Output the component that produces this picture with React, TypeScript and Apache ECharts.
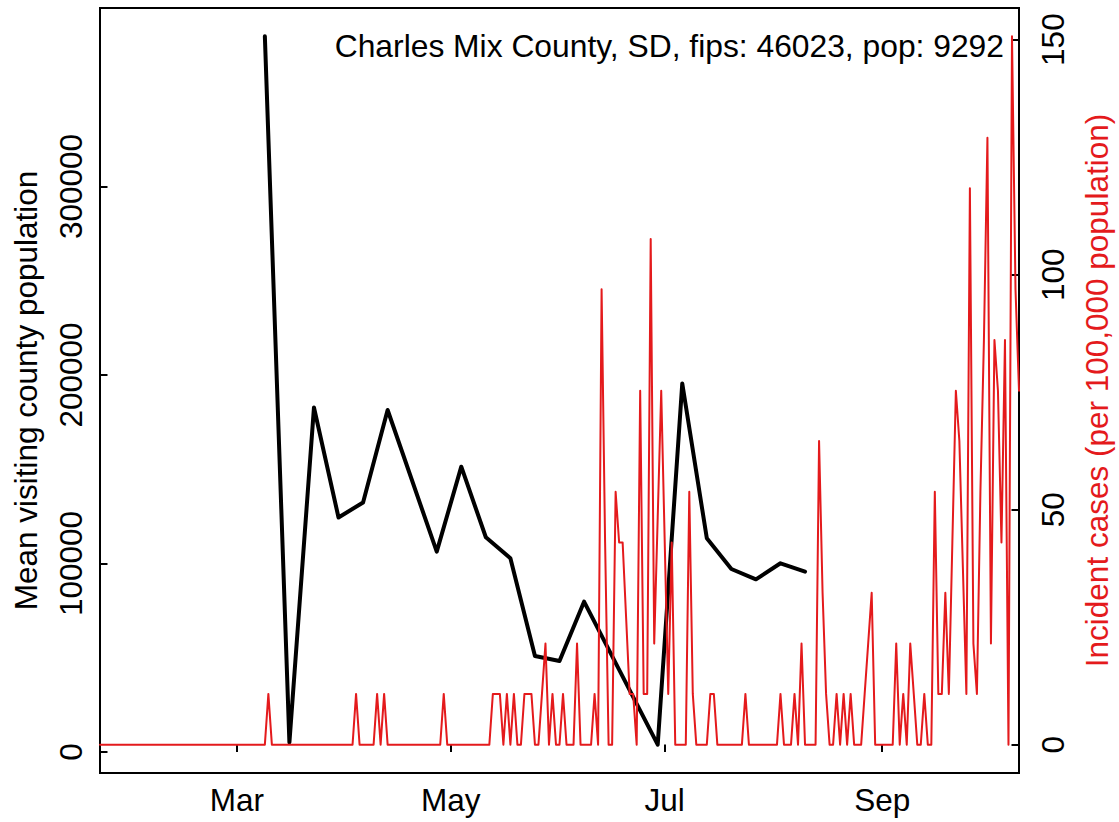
import React, { useEffect, useRef } from "react";
import * as echarts from "echarts";

// ---- data ----
const startDate = "2020-01-22";
const endDate = "2020-10-10";
const tickDates = ["2020-03-01", "2020-05-01", "2020-07-01", "2020-09-01"];
const tickLabels = ["Mar", "May", "Jul", "Sep"];

const visitDates = [
  "2020-03-09", "2020-03-16", "2020-03-23", "2020-03-30", "2020-04-06", "2020-04-13",
  "2020-04-27", "2020-05-04", "2020-05-11", "2020-05-18", "2020-05-25", "2020-06-01",
  "2020-06-08", "2020-06-29", "2020-07-06", "2020-07-13", "2020-07-20", "2020-07-27",
  "2020-08-03", "2020-08-10",
];
const visitValues = [
  379650, 5040, 182750, 124400, 132360, 181430,
  106260, 151350, 113900, 102760, 50930, 48280,
  79740, 3873, 195500, 113370, 97080, 91600,
  100100, 95650,
];

// daily incident cases per 100,000, from 2020-01-22 to 2020-10-10
const incidentCases = [
  // Jan 22 - Mar 9 (days 0-47)
  0, 0, 0, 0, 0, 0, 0, 0, 0, 0, 0, 0, 0, 0, 0, 0, 0, 0, 0, 0, 0, 0, 0, 0,
  0, 0, 0, 0, 0, 0, 0, 0, 0, 0, 0, 0, 0, 0, 0, 0, 0, 0, 0, 0, 0, 0, 0, 0,
  // days 48-71
  10.8, 0, 0, 0, 0, 0, 0, 0, 0, 0, 0, 0, 0, 0, 0, 0, 0, 0, 0, 0, 0, 0, 0, 0,
  // days 72-95
  0, 10.8, 0, 0, 0, 0, 0, 10.8, 0, 10.8, 0, 0, 0, 0, 0, 0, 0, 0, 0, 0, 0, 0, 0, 0,
  // days 96-119
  0, 0, 10.8, 0, 0, 0, 0, 0, 0, 0, 0, 0, 0, 0, 0, 0, 10.8, 10.8, 10.8, 0, 10.8, 0, 10.8, 0,
  // days 120-143
  0, 10.8, 10.8, 10.8, 0, 0, 10.8, 21.5, 0, 10.8, 0, 0, 10.8, 0, 0, 0, 21.5, 0, 0, 0, 0, 10.8, 0, 96.9,
  // days 144-167
  43.0, 0, 0, 53.8, 43.0, 43.0, 26.9, 10.8, 10.8, 0, 75.3, 10.8, 10.8, 107.6, 21.5, 48.4, 75.3, 43.0, 10.8, 43.0, 0, 0, 0, 0,
  // days 168-191
  53.8, 10.8, 0, 0, 0, 0, 10.8, 10.8, 0, 0, 0, 0, 0, 0, 0, 0, 10.8, 0, 0, 0, 0, 0, 0, 0,
  // days 192-215
  0, 0, 10.8, 0, 0, 0, 10.8, 0, 21.5, 0, 0, 0, 0, 64.6, 32.3, 10.8, 0, 0, 10.8, 0, 10.8, 0, 10.8, 0,
  // days 216-239
  0, 0, 10.8, 21.5, 32.3, 0, 0, 0, 0, 0, 0, 21.5, 0, 10.8, 0, 21.5, 10.8, 0, 0, 10.8, 0, 0, 53.8, 10.8,
  // days 240-262
  10.8, 32.3, 10.8, 43.0, 75.3, 64.6, 37.7, 10.8, 118.4, 21.5, 10.8, 53.8, 86.1, 129.1, 21.5, 86.1, 75.3, 43.0, 86.1, 0, 150.7, 96.9, 75.3,
];

const leftTicks = [0, 100000, 200000, 300000];
const rightTicks = [0, 50, 100, 150];

const titleText = "Charles Mix County, SD, fips: 46023, pop: 9292";
const leftName = "Mean visiting county population";
const rightName = "Incident cases (per 100,000 population)";

// ---- styling ----
const FONT = '"Liberation Sans", Arial, Helvetica, sans-serif';
const FS = 31.5;
const TITLE_FS = 31.8;
const RED = "#E41A1C";

const dayIndex = (d: string) =>
  Math.round((Date.parse(d + "T00:00:00Z") - Date.parse(startDate + "T00:00:00Z")) / 86400000);

const ext = (lo: number, hi: number) => {
  const d = (hi - lo) * 0.04;
  return [lo - d, hi + d];
};

export default function App() {
  const ref = useRef<HTMLDivElement>(null);

  useEffect(() => {
    if (!ref.current) return;
    const chart = echarts.init(ref.current, undefined, { renderer: "svg" });

    const tickDays = tickDates.map(dayIndex);
    const labelMap: Record<number, string> = {};
    tickDays.forEach((d, i) => (labelMap[d] = tickLabels[i]));

    const blackData = visitDates.map((d, i) => [dayIndex(d), visitValues[i]]);
    const redData = incidentCases.map((v, i) => [i, v]);

    const [lMin, lMax] = ext(Math.min(...visitValues), Math.max(...visitValues));
    const [rMin, rMax] = ext(Math.min(...incidentCases), Math.max(...incidentCases));

    const textBase = { fontFamily: FONT, fontSize: FS, lineHeight: FS, color: "#000" };

    chart.setOption({
      animation: false,
      textStyle: { fontFamily: FONT },
      grid: {
        left: 100, right: 100, top: 8, bottom: 49,
        show: true, borderColor: "#000", borderWidth: 2, backgroundColor: "transparent",
        containLabel: false,
        outerBoundsMode: "none",
      },
      xAxis: {
        type: "value",
        min: 0,
        max: dayIndex(endDate),
        axisLine: { show: false },
        splitLine: { show: false },
        axisTick: {
          show: true, inside: true, length: 7.5, customValues: tickDays,
          lineStyle: { color: "#000", width: 2 },
        },
        axisLabel: {
          ...textBase, customValues: tickDays, margin: 11,
          formatter: (v: number) => labelMap[v] ?? "",
        },
      },
      yAxis: [
        {
          type: "value",
          position: "left",
          min: lMin,
          max: lMax,
          axisLine: { show: false },
          splitLine: { show: false },
          axisTick: {
            show: true, inside: true, length: 7.5, customValues: leftTicks,
            lineStyle: { color: "#000", width: 2 },
          },
          axisLabel: {
            ...textBase, customValues: leftTicks, rotate: 90, margin: 13.5,
            formatter: (v: number) => String(v),
          },
          name: leftName,
          nameLocation: "middle",
          nameRotate: 90,
          nameGap: 58.6,
          nameTextStyle: { ...textBase },
        },
        {
          type: "value",
          position: "right",
          min: rMin,
          max: rMax,
          axisLine: { show: false },
          splitLine: { show: false },
          axisTick: {
            show: true, inside: true, length: 7.5, customValues: rightTicks,
            lineStyle: { color: "#000", width: 2 },
          },
          axisLabel: {
            ...textBase, customValues: rightTicks, rotate: 90, margin: 18,
            formatter: (v: number) => String(v),
          },
          name: rightName,
          nameLocation: "middle",
          nameRotate: 90,
          nameGap: 62,
          nameTextStyle: { ...textBase, color: RED },
        },
      ],
      series: [
        {
          type: "line",
          yAxisIndex: 0,
          data: blackData,
          symbol: "none",
          showSymbol: false,
          lineStyle: { color: "#000", width: 4, join: "round", cap: "round" },
          z: 2,
        },
        {
          type: "line",
          yAxisIndex: 1,
          data: redData,
          symbol: "none",
          showSymbol: false,
          lineStyle: { color: RED, width: 2, join: "round", cap: "round" },
          z: 3,
        },
      ],
      graphic: [
        {
          type: "text",
          x: 1004,
          y: 46,
          z: 10,
          style: {
            text: titleText,
            fill: "#000",
            font: `${TITLE_FS}px ${FONT}`,
            align: "right",
            verticalAlign: "middle",
            textAlign: "right",
            textVerticalAlign: "middle",
          },
        },
      ],
    });

    return () => chart.dispose();
  }, []);

  return (
    <div
      ref={ref}
      style={{ position: "absolute", left: 0, top: 0, width: 1119, height: 822, background: "#fff" }}
    />
  );
}
